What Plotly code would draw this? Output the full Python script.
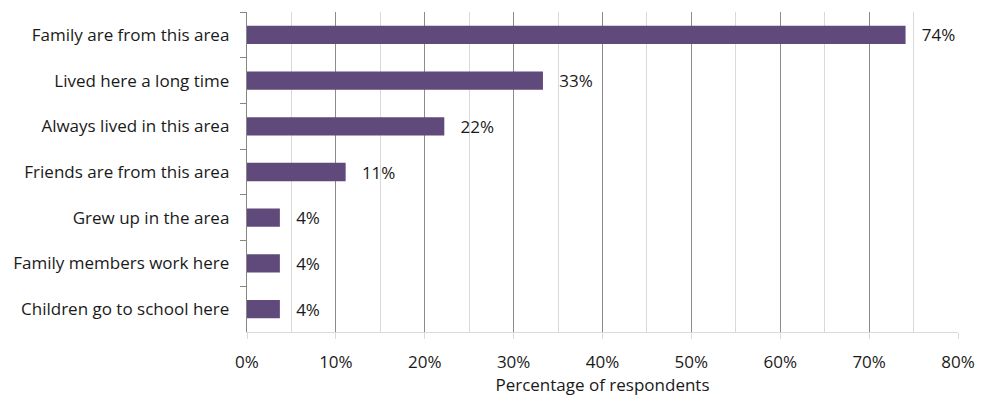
import plotly.graph_objects as go

categories = ["Family are from this area", "Lived here a long time", "Always lived in this area",
              "Friends are from this area", "Grew up in the area", "Family members work here",
              "Children go to school here"]
values = [74.1, 33.3, 22.2, 11.1, 3.7, 3.7, 3.7]
x_ticks = [0, 10, 20, 30, 40, 50, 60, 70, 80]
x_tick_labels = [f"{t}%" for t in x_ticks]

font = dict(family="Open Sans, sans-serif", size=17, color="#1a1a1a")

fig = go.Figure(go.Bar(
    y=categories, x=values, orientation="h",
    marker=dict(color="#604A7B", line=dict(width=0)),
    text=[f"   {v:.0f}%" for v in values], textposition="outside",
    textfont=font, cliponaxis=False, constraintext="none",
))
fig.update_layout(
    width=983, height=397, margin=dict(l=247, r=25, t=12, b=65, autoexpand=False),
    paper_bgcolor="white", plot_bgcolor="white", font=font, bargap=0.6,
    showlegend=False,
)
fig.update_xaxes(
    range=[0, 80], tickvals=x_ticks, ticktext=x_tick_labels,
    showgrid=True, gridcolor="#8c8c8c", gridwidth=1,
    minor=dict(dtick=5, showgrid=True, gridcolor="#d9d9d9", gridwidth=1),
    showline=True, linecolor="#d9d9d9", linewidth=1,
    ticks="outside", ticklen=6, tickcolor="#d9d9d9", tickfont=font,
    ticklabelstandoff=9, automargin=False,
    zeroline=False, title=dict(text="Percentage of respondents", standoff=4, font=font),
)
fig.update_yaxes(
    autorange="reversed", showline=True, linecolor="#868686", linewidth=1,
    ticks="outside", ticklen=6, tickcolor="#868686", tickson="boundaries",
    showgrid=False, ticksuffix="   ", tickfont=font, automargin=False,
)
fig.write_html("out.html")
